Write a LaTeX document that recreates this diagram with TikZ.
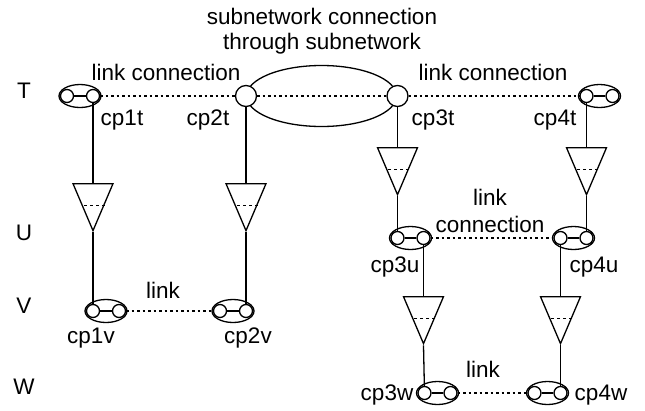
\documentclass[tikz,border=0pt]{standalone}
\usepackage{fontspec}
\setmainfont{Liberation Sans}
\usetikzlibrary{calc}
\usetikzlibrary{shapes.geometric}

\begin{document}
\begin{tikzpicture}[x=1pt,y=-1pt,line width=1.3pt,
 every node/.style={font=\fontsize{22.5}{25}\selectfont, inner sep=0},
 unit/.style={draw, ellipse, minimum width=42, minimum height=23},
 port/.style={draw, circle, fill=white, minimum size=13},
 tp/.style={draw, circle, fill=white, minimum size=21},
 amp/.style={draw, isosceles triangle, isosceles triangle stretches, shape border rotate=-90, minimum width=40, minimum height=47, anchor=lower side},
 lc/.style={dash pattern=on 2.5pt off 3pt}]
\useasboundingbox (0,0) rectangle (645,410);
% layers
\foreach \l/\y in {T/91,U/233,V/306,W/387}
 \node (lvl\l) at (24,\y) {\l};
% subnetwork
\node[draw, ellipse, minimum width=150, minimum height=61] (sn) at (321.5,96) {};
\node[align=center] (sntext) at (322,31) {subnetwork connection\\through subnetwork};
\node[tp] (cp2t) at (246,96) {};
\node[tp] (cp3t) at (397.5,96) {};
% termination points
\foreach \n/\x/\y in {cp1t/80/96, cp4t/599.5/96, cp3u/410.5/238, cp4u/573.5/238, cp1v/106/311, cp2v/233/311, cp3w/437.5/393, cp4w/547.5/393} {
 \node[unit] (\n) at (\x,\y) {};
 \node[port] (\n-l) at (\x-13,\y) {};
 \node[port] (\n-r) at (\x+13,\y) {};
 \draw (\n-l) -- (\n-r);
}
% adaptations
\node[amp] (a1) at (93,183) {};
\node[amp] (a2) at (246,183) {};
\node[amp] (a3) at (397.5,147) {};
\node[amp] (a4) at (586.5,147) {};
\node[amp] (a5) at (423.5,296) {};
\node[amp] (a6) at (560.5,296) {};
\foreach \a in {a1,a2,a3,a4,a5,a6}
 \draw[line width=.6pt, dash pattern=on 3pt off 3pt] ($(\a.left corner)!.45!(\a.apex)$) -- ($(\a.right corner)!.45!(\a.apex)$);
% trails
\draw (cp1t-r) -- (a1.lower side);
\draw (a1.apex) -- (cp1v-l);
\draw (cp2t) -- (a2.lower side);
\draw (a2.apex) -- (cp2v-r);
\draw (cp3t) -- (a3.lower side);
\draw (a3.apex) -- (cp3u-l);
\draw (cp4t-l) -- (a4.lower side);
\draw (a4.apex) -- (cp4u-r);
\draw (cp3u-r) -- (a5.lower side);
\draw (a5.apex) -- (cp3w-l);
\draw (cp4u-l) -- (a6.lower side);
\draw (a6.apex) -- (cp4w-r);
% link connections
\draw[lc] (cp1t-r) -- (cp2t);
\draw[lc] (cp2t) -- (cp3t);
\draw[lc] (cp3t) -- (cp4t-l);
\draw[lc] (cp3u-r) -- (cp4u-l);
\draw[lc] (cp1v-r) -- (cp2v-l);
\draw[lc] (cp3w-r) -- (cp4w-l);
% labels
\node (lc1) at (166,72) {link connection};
\node (lc2) at (493,72) {link connection};
\node[align=center, font=\fontsize{22.5}{27}\selectfont] (lc3) at (490,211) {link\\connection};
\node (lk1) at (163,290) {link};
\node (lk2) at (483,369) {link};
\node (cp1t-lab) at (122,120) {cp1t};
\node (cp2t-lab) at (208,120) {cp2t};
\node (cp3t-lab) at (433,120) {cp3t};
\node (cp4t-lab) at (555,120) {cp4t};
\node (cp3u-lab) at (395,267) {cp3u};
\node (cp4u-lab) at (594,267) {cp4u};
\node (cp1v-lab) at (91,338) {cp1v};
\node (cp2v-lab) at (248,338) {cp2v};
\node (cp3w-lab) at (387,395) {cp3w};
\node (cp4w-lab) at (601,395) {cp4w};
\end{tikzpicture}
\end{document}
